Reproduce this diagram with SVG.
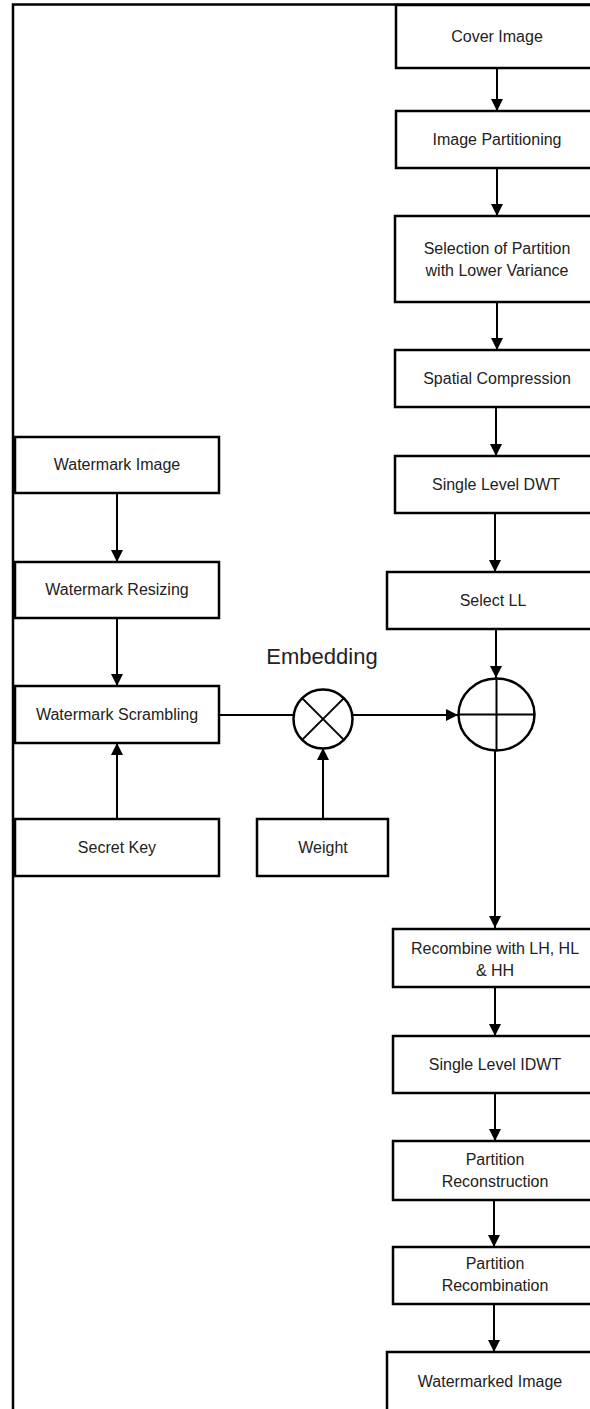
<svg xmlns="http://www.w3.org/2000/svg" width="590" height="1409" viewBox="0 0 590 1409">
<style>
.box{fill:#fff;stroke:#000;stroke-width:2.5}
.t{font-family:"Liberation Sans",Arial,sans-serif;font-size:16px;fill:#222;text-anchor:middle}
.c{fill:none;stroke:#000;stroke-width:2}
.emb{font-family:"Liberation Sans",Arial,sans-serif;font-size:22px;fill:#222;text-anchor:middle}
</style>
<defs>
<marker id="ah" viewBox="0 0 10 10" refX="10" refY="5" markerWidth="6" markerHeight="6" orient="auto" markerUnits="strokeWidth">
<path d="M0,0 L10,5 L0,10 z" fill="#000"/>
</marker>
</defs>
<rect width="590" height="1409" fill="#fff"/>
<g id="border">
<path d="M13,1409 V4.5 H590" fill="none" stroke="#000" stroke-width="2.5"/>
</g>
<g id="connectors">
<line class="c" x1="497" y1="68" x2="497" y2="111" marker-end="url(#ah)"/>
<line class="c" x1="497" y1="168" x2="497" y2="216" marker-end="url(#ah)"/>
<line class="c" x1="497" y1="302" x2="497" y2="350" marker-end="url(#ah)"/>
<line class="c" x1="496" y1="407" x2="496" y2="456" marker-end="url(#ah)"/>
<line class="c" x1="495" y1="513" x2="495" y2="572" marker-end="url(#ah)"/>
<line class="c" x1="496" y1="629" x2="496" y2="678" marker-end="url(#ah)"/>
<line class="c" x1="495" y1="750" x2="495" y2="928" marker-end="url(#ah)"/>
<line class="c" x1="495" y1="987" x2="495" y2="1036" marker-end="url(#ah)"/>
<line class="c" x1="495" y1="1093" x2="495" y2="1141" marker-end="url(#ah)"/>
<line class="c" x1="494" y1="1200" x2="494" y2="1247" marker-end="url(#ah)"/>
<line class="c" x1="494" y1="1304" x2="494" y2="1352" marker-end="url(#ah)"/>
<line class="c" x1="117" y1="493" x2="117" y2="562" marker-end="url(#ah)"/>
<line class="c" x1="117" y1="618" x2="117" y2="686" marker-end="url(#ah)"/>
<line class="c" x1="117" y1="819" x2="117" y2="743" marker-end="url(#ah)"/>
<line class="c" x1="323" y1="819" x2="323" y2="748" marker-end="url(#ah)"/>
<line class="c" x1="219" y1="715" x2="294" y2="715"/>
<line class="c" x1="352" y1="715" x2="458" y2="715" marker-end="url(#ah)"/>
</g>
<g id="n-cover"><rect class="box" x="396" y="5" width="202" height="63"/><text class="t" x="497" y="42">Cover Image</text></g>
<g id="n-partitioning"><rect class="box" x="396" y="111" width="202" height="57"/><text class="t" x="497" y="145">Image Partitioning</text></g>
<g id="n-selection"><rect class="box" x="395" y="216" width="202" height="86"/><text class="t" x="497" y="254">Selection of Partition</text><text class="t" x="497" y="276">with Lower Variance</text></g>
<g id="n-spatial"><rect class="box" x="395" y="350" width="202" height="57"/><text class="t" x="497" y="384">Spatial Compression</text></g>
<g id="n-dwt"><rect class="box" x="395" y="456" width="202" height="57"/><text class="t" x="496" y="490">Single Level DWT</text></g>
<g id="n-selectll"><rect class="box" x="387" y="572" width="210" height="57"/><text class="t" x="493" y="606">Select LL</text></g>
<g id="n-plus"><ellipse cx="496.5" cy="714.5" rx="38" ry="36" fill="#fff" stroke="#000" stroke-width="2.5"/><line class="c" x1="458.5" y1="714.5" x2="534.5" y2="714.5"/><line class="c" x1="496.5" y1="678.5" x2="496.5" y2="750.5"/></g>
<g id="n-recombine"><rect class="box" x="393" y="929" width="204" height="58"/><text class="t" x="495" y="954">Recombine with LH, HL</text><text class="t" x="495" y="976">&amp; HH</text></g>
<g id="n-idwt"><rect class="box" x="393" y="1036" width="204" height="57"/><text class="t" x="495" y="1070">Single Level IDWT</text></g>
<g id="n-reconstruction"><rect class="box" x="393" y="1141" width="204" height="59"/><text class="t" x="495" y="1165">Partition</text><text class="t" x="495" y="1187">Reconstruction</text></g>
<g id="n-recombination"><rect class="box" x="393" y="1247" width="204" height="57"/><text class="t" x="495" y="1269">Partition</text><text class="t" x="495" y="1291">Recombination</text></g>
<g id="n-watermarked"><rect class="box" x="387" y="1352" width="210" height="70"/><text class="t" x="490" y="1387">Watermarked Image</text></g>
<g id="n-wm-image"><rect class="box" x="15" y="437" width="204" height="56"/><text class="t" x="117" y="470">Watermark Image</text></g>
<g id="n-wm-resize"><rect class="box" x="15" y="562" width="204" height="56"/><text class="t" x="117" y="595">Watermark Resizing</text></g>
<g id="n-wm-scramble"><rect class="box" x="15" y="686" width="204" height="57"/><text class="t" x="117" y="720">Watermark Scrambling</text></g>
<g id="n-secret"><rect class="box" x="15" y="819" width="204" height="57"/><text class="t" x="117" y="853">Secret Key</text></g>
<g id="n-weight"><rect class="box" x="257" y="819" width="131" height="57"/><text class="t" x="323" y="853">Weight</text></g>
<g id="n-times"><circle cx="323" cy="719" r="29.5" fill="#fff" stroke="#000" stroke-width="2.5"/><line class="c" x1="302.1" y1="698.1" x2="343.9" y2="739.9"/><line class="c" x1="343.9" y1="698.1" x2="302.1" y2="739.9"/></g>
<text class="emb" x="322" y="664">Embedding</text>
</svg>
